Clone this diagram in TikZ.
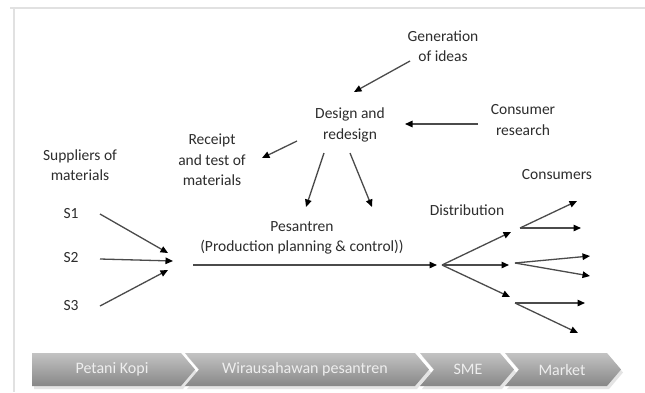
\documentclass[tikz,border=0pt]{standalone}
\usepackage{fontspec}
\setmainfont{Carlito}
\usetikzlibrary{arrows.meta}
\definecolor{txt}{RGB}{45,45,45}
\definecolor{linec}{RGB}{75,75,75}
\definecolor{frame}{RGB}{225,225,225}
\definecolor{bantop}{RGB}{195,195,195}
\definecolor{banbot}{RGB}{135,135,135}
\definecolor{bantxt}{RGB}{238,238,238}
\begin{document}
\begin{tikzpicture}[x=1pt,y=-1pt,
  lbl/.style={font=\fontsize{15.5}{20.5}\selectfont, text=txt, align=center, inner sep=0pt},
  bantext/.style={font=\fontsize{16}{20}\selectfont, text=bantxt, inner sep=0pt},
  arr/.style={draw=linec, line width=1.3pt, -{Triangle[length=7.5pt,width=6.5pt,color=black]}},
  chev/.style={top color=bantop, bottom color=banbot, draw=none}]
\useasboundingbox (0,0) rectangle (645,392);
\fill[white] (0,0) rectangle (645,392);
% frame
\draw[frame, line width=1.5pt] (10,8) -- (645,8);
\draw[frame, line width=1.5pt] (14,8) -- (14,392);

% labels
\node[lbl] (gen) at (443,46) {Generation\\of ideas};
\node[lbl] (des) at (350,125) {Design and\\redesign};
\node[lbl] (cres) at (523,120) {Consumer\\research};
\node[lbl] (rec) at (212,160) {Receipt\\and test of\\materials};
\node[lbl] (sup) at (80,165) {Suppliers of\\materials};
\node[lbl] (cons) at (557,175) {Consumers};
\node[lbl] (dist) at (467,210) {Distribution};
\node[lbl] (pes) at (302,238) {Pesantren\\(Production planning \& control))};
\node[lbl] (s1) at (71,214) {S1};
\node[lbl] (s2) at (71,258) {S2};
\node[lbl] (s3) at (71,306) {S3};

% coordinates
\coordinate (g0) at (410,61);   \coordinate (g1) at (354,92);
\coordinate (c0) at (478,124);  \coordinate (c1) at (405,124);
\coordinate (r0) at (297,141);  \coordinate (r1) at (262,158);
\coordinate (d0) at (324,153);  \coordinate (d1) at (306,207);
\coordinate (e0) at (350,153);  \coordinate (e1) at (372,207);
\coordinate (a0) at (100,214);  \coordinate (a1) at (168,253);
\coordinate (b0) at (100,259);  \coordinate (b1) at (173,261);
\coordinate (h0) at (100,306);  \coordinate (h1) at (168,270);
\coordinate (m0) at (193,265);  \coordinate (m1) at (437,265);
\coordinate (F) at (442,265);
\coordinate (u1) at (511,232);  \coordinate (u0) at (520,228);
\coordinate (v1) at (509,265);  \coordinate (v0) at (515,263);
\coordinate (w1) at (510,297);  \coordinate (w0) at (515,303);
\coordinate (ua) at (577,201);  \coordinate (ub) at (581,228);
\coordinate (va) at (590,256);  \coordinate (vb) at (590,276);
\coordinate (wa) at (585,303);  \coordinate (wb) at (578,333);

% connectors
\draw[arr] (g0) -- (g1);
\draw[arr] (c0) -- (c1);
\draw[arr] (r0) -- (r1);
\draw[arr] (d0) -- (d1);
\draw[arr] (e0) -- (e1);
\draw[arr] (a0) -- (a1);
\draw[arr] (b0) -- (b1);
\draw[arr] (h0) -- (h1);
\draw[arr] (m0) -- (m1);
\draw[arr] (F) -- (u1);
\draw[arr] (F) -- (v1);
\draw[arr] (F) -- (w1);
\draw[arr] (u0) -- (ua);
\draw[arr] (u0) -- (ub);
\draw[arr] (v0) -- (va);
\draw[arr] (v0) -- (vb);
\draw[arr] (w0) -- (wa);
\draw[arr] (w0) -- (wb);

% banner shadow
\fill[gray!35, opacity=0.6] (34,356) -- (183,356) -- (197,372.5) -- (183,389) -- (34,389) -- cycle;
\fill[gray!35, opacity=0.6] (187,356) -- (417,356) -- (431,372.5) -- (417,389) -- (187,389) -- (201,372.5) -- cycle;
\fill[gray!35, opacity=0.6] (422,356) -- (502,356) -- (516,372.5) -- (502,389) -- (422,389) -- (436,372.5) -- cycle;
\fill[gray!35, opacity=0.6] (507,356) -- (609,356) -- (623,372.5) -- (609,389) -- (507,389) -- (521,372.5) -- cycle;
% banner
\shade[chev] (32,353) -- (181,353) -- (195,369.5) -- (181,386) -- (32,386) -- cycle;
\shade[chev] (185,353) -- (415,353) -- (429,369.5) -- (415,386) -- (185,386) -- (199,369.5) -- cycle;
\shade[chev] (420,353) -- (500,353) -- (514,369.5) -- (500,386) -- (420,386) -- (434,369.5) -- cycle;
\shade[chev] (505,353) -- (607,353) -- (621,369.5) -- (607,386) -- (505,386) -- (519,369.5) -- cycle;
\node[bantext] (p1) at (112,369.5) {Petani Kopi};
\node[bantext] (p2) at (305,369.5) {Wirausahawan pesantren};
\node[bantext] (p3) at (468,369.5) {SME};
\node[bantext] (p4) at (562,369.5) {Market};
\end{tikzpicture}
\end{document}
